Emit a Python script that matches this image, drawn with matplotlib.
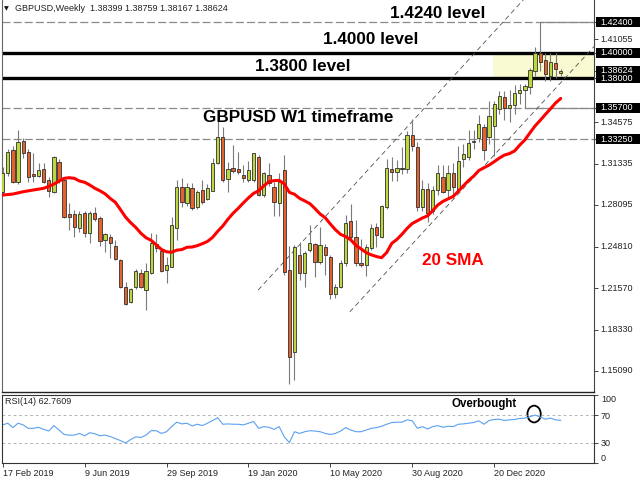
import numpy as np
import pandas as pd
import matplotlib
matplotlib.use("Agg")
import matplotlib.pyplot as plt
from matplotlib.patches import Ellipse, Rectangle
from matplotlib import transforms

plt.rcParams['font.family'] = ['Liberation Sans', 'DejaVu Sans']
plt.rcParams['lines.scale_dashes'] = False

# ---------------- data ----------------
symbol = "GBPUSD"
timeframe = "Weekly"

opens = [1.2913, 1.3057, 1.3240, 1.2992, 1.3310, 1.3227, 1.3050, 1.3038, 1.3089, 1.3005,
         1.2913, 1.3148, 1.3005, 1.2739, 1.2736, 1.2632, 1.2744, 1.2587, 1.2744, 1.2705,
         1.2535, 1.2556, 1.2488, 1.2378, 1.2165, 1.2052, 1.2165, 1.2274, 1.2143, 1.2279,
         1.2505, 1.2451, 1.2300, 1.2326, 1.2627, 1.2952, 1.2827, 1.2940, 1.2791, 1.2927,
         1.2856, 1.2921, 1.3140, 1.3339, 1.3010, 1.3097, 1.3089, 1.3044, 1.3005, 1.3005,
         1.3187, 1.2887, 1.3044, 1.2952, 1.2822, 1.3085, 1.2300, 1.1660, 1.2418, 1.2274,
         1.2457, 1.2501, 1.2365, 1.2483, 1.2404, 1.2112, 1.2169, 1.2352, 1.2683, 1.2561,
         1.2352, 1.2339, 1.2470, 1.2639, 1.2561, 1.2796, 1.3090, 1.3065, 1.3097, 1.3089,
         1.3357, 1.3266, 1.2796, 1.2932, 1.2760, 1.2925, 1.3031, 1.2930, 1.3057, 1.2930,
         1.3167, 1.3183, 1.3300, 1.3331, 1.3420, 1.3345, 1.3430, 1.3560, 1.3653, 1.3566,
         1.3592, 1.3688, 1.3710, 1.3731, 1.3861, 1.4002, 1.3945, 1.3819, 1.3924, 1.38399]

highs = [1.3109, 1.3245, 1.3270, 1.3397, 1.3330, 1.3245, 1.3214, 1.3140, 1.3135, 1.3026,
         1.3193, 1.3167, 1.3010, 1.2822, 1.2770, 1.2764, 1.2764, 1.2760, 1.2791, 1.2720,
         1.2590, 1.2580, 1.2535, 1.2390, 1.2208, 1.2157, 1.2305, 1.2305, 1.2357, 1.2587,
         1.2580, 1.2470, 1.2404, 1.2713, 1.3005, 1.3018, 1.2980, 1.2979, 1.2930, 1.3005,
         1.2975, 1.3175, 1.3500, 1.3420, 1.3148, 1.3279, 1.3227, 1.3122, 1.3150, 1.3220,
         1.3201, 1.3070, 1.3135, 1.2990, 1.3060, 1.3200, 1.2485, 1.2496, 1.2522, 1.2450,
         1.2652, 1.2515, 1.2639, 1.2500, 1.2420, 1.2190, 1.2380, 1.2730, 1.2815, 1.2690,
         1.2540, 1.2500, 1.2660, 1.2670, 1.2810, 1.3170, 1.3187, 1.3160, 1.3265, 1.3390,
         1.3482, 1.3300, 1.3005, 1.2980, 1.2955, 1.3120, 1.3122, 1.3120, 1.3140, 1.3270,
         1.3290, 1.3395, 1.3400, 1.3514, 1.3440, 1.3625, 1.3625, 1.3700, 1.3705, 1.3710,
         1.3750, 1.3760, 1.3760, 1.3880, 1.4050, 1.4240, 1.4000, 1.4000, 1.4000, 1.38759]

lows = [1.2895, 1.3040, 1.2985, 1.2975, 1.3180, 1.2990, 1.2992, 1.3026, 1.2979, 1.2869,
        1.2901, 1.2979, 1.2710, 1.2613, 1.2561, 1.2600, 1.2561, 1.2509, 1.2680, 1.2488,
        1.2443, 1.2392, 1.2380, 1.2157, 1.2026, 1.2044, 1.2150, 1.2157, 1.1987, 1.2270,
        1.2440, 1.2285, 1.2201, 1.2320, 1.2535, 1.2796, 1.2800, 1.2770, 1.2780, 1.2820,
        1.2845, 1.2915, 1.3130, 1.2990, 1.2913, 1.3057, 1.3050, 1.2992, 1.2990, 1.2990,
        1.2880, 1.2875, 1.2960, 1.2725, 1.2725, 1.2260, 1.1410, 1.1440, 1.2222, 1.2169,
        1.2440, 1.2248, 1.2350, 1.2261, 1.2075, 1.2078, 1.2160, 1.2330, 1.2540, 1.2330,
        1.2325, 1.2250, 1.2455, 1.2480, 1.2550, 1.2780, 1.3000, 1.2995, 1.3050, 1.3060,
        1.3230, 1.2760, 1.2765, 1.2675, 1.2740, 1.2890, 1.2901, 1.2860, 1.2855, 1.2915,
        1.3105, 1.3160, 1.3250, 1.3305, 1.3160, 1.3290, 1.3190, 1.3520, 1.3475, 1.3462,
        1.3520, 1.3600, 1.3570, 1.3680, 1.3820, 1.3860, 1.3780, 1.3780, 1.3800, 1.38167]

closes = [1.3057, 1.3222, 1.2992, 1.3300, 1.3214, 1.3031, 1.3040, 1.3083, 1.2992, 1.2921,
          1.3183, 1.3005, 1.2717, 1.2713, 1.2634, 1.2739, 1.2587, 1.2749, 1.2697, 1.2529,
          1.2582, 1.2509, 1.2384, 1.2165, 1.2034, 1.2149, 1.2295, 1.2169, 1.2295, 1.2509,
          1.2475, 1.2295, 1.2340, 1.2652, 1.2952, 1.2835, 1.2948, 1.2783, 1.2913, 1.2835,
          1.2940, 1.3140, 1.3339, 1.3005, 1.3089, 1.3075, 1.3068, 1.3018, 1.3083, 1.3214,
          1.2887, 1.3062, 1.2979, 1.2835, 1.2990, 1.2287, 1.1620, 1.2483, 1.2274, 1.2436,
          1.2509, 1.2365, 1.2496, 1.2418, 1.2112, 1.2164, 1.2352, 1.2670, 1.2561, 1.2352,
          1.2339, 1.2483, 1.2626, 1.2574, 1.2801, 1.3097, 1.3065, 1.3097, 1.3090, 1.3357,
          1.3270, 1.2796, 1.2932, 1.2749, 1.2925, 1.3057, 1.2913, 1.3057, 1.2952, 1.3156,
          1.3209, 1.3297, 1.3313, 1.3443, 1.3240, 1.3510, 1.3600, 1.3663, 1.3566, 1.3592,
          1.3688, 1.3710, 1.3741, 1.3866, 1.4002, 1.3931, 1.3835, 1.3932, 1.3872, 1.38624]

# 20 SMA values for the first 19 weeks (earlier history is off-chart)
sma_lead = [1.2887, 1.2891, 1.2895, 1.2904, 1.2913, 1.2920, 1.2927, 1.2933, 1.2940, 1.2955,
            1.2973, 1.2995, 1.3018, 1.3023, 1.3018, 1.2997, 1.2987, 1.2966, 1.2940]
sma_period = 20

rsi = [56.0, 58.5, 52.0, 58.5, 56.0, 51.0, 51.0, 52.5, 49.5, 47.0,
       55.0, 48.5, 42.0, 41.0, 41.0, 43.5, 40.0, 44.5, 43.0, 40.0,
       41.0, 39.0, 36.0, 33.0, 29.5, 34.5, 38.5, 37.5, 41.0, 47.5,
       47.5, 43.5, 46.0, 53.5, 60.0, 57.5, 58.5, 54.5, 57.0, 55.0,
       58.5, 62.5, 66.5, 57.0, 57.5, 57.0, 57.0, 56.0, 58.5, 61.0,
       51.0, 53.5, 52.5, 49.5, 53.5, 38.5, 30.0, 46.0, 43.5, 46.0,
       47.5, 47.0, 46.0, 43.5, 42.0, 43.5, 47.0, 52.0, 48.5, 46.0,
       46.0, 48.5, 51.0, 52.0, 54.0, 57.0, 59.5, 60.0, 60.0, 63.5,
       62.0, 51.0, 53.5, 50.0, 53.5, 55.0, 52.5, 54.0, 53.5, 57.0,
       57.5, 58.5, 59.5, 62.0, 57.0, 62.5, 64.0, 64.5, 62.5, 63.5,
       64.0, 65.5, 66.0, 68.0, 70.5, 67.5, 64.5, 66.0, 63.5, 62.7609]

date_labels = ["17 Feb 2019", "9 Jun 2019", "29 Sep 2019", "19 Jan 2020",
               "10 May 2020", "30 Aug 2020", "20 Dec 2020"]
date_label_idx = [0, 16, 32, 48, 64, 80, 96]

axis_ticks = [1.41055, 1.34575, 1.31335, 1.28095, 1.24810, 1.21570, 1.18330, 1.15090]
boxed_levels = [1.42400, 1.40000, 1.38000, 1.38624, 1.35700, 1.33250]
dashed_levels = [1.42400, 1.35700, 1.33250]
thick_levels = [1.40000, 1.38000]
rsi_levels = [70, 30]
rsi_ticks = [100, 70, 30, 0]

# ---------------- figure ----------------
W, H = 640, 480
fig = plt.figure(figsize=(6.4, 4.8), dpi=100, facecolor='white')


def fx(px):
    return px / W


def fy(py):
    return 1 - py / H


AX_L, AX_R = 1.5, 594.0
ax = fig.add_axes([fx(AX_L), fy(392), (AX_R - AX_L) / W, 392 / H])
ax2 = fig.add_axes([fx(AX_L), fy(463), (AX_R - AX_L) / W, (463 - 395) / H])

o = np.array(opens)
h = np.array(highs)
l = np.array(lows)
c = np.array(closes)
n = len(c)
idx = np.arange(n)

xlim = (-0.23, 115.5)
ax.set_xlim(*xlim)
ax2.set_xlim(*xlim)
ylim = (1.13445, 1.44147)
ax.set_ylim(*ylim)
ax2.set_ylim(0, 100)

# highlight zone between 1.38 and 1.40
ax.add_patch(Rectangle((95.8, thick_levels[1]), xlim[1] - 95.8, thick_levels[0] - thick_levels[1],
                       facecolor='#fafad2', edgecolor='none', zorder=0.5))

# horizontal dashed levels
for lv in dashed_levels:
    ax.axhline(lv, color='#8a8a8a', lw=0.9, dashes=(5.8, 2.2), zorder=1)
# solid price-line segments from the candles that touched them
ax.hlines(1.42400, 105, xlim[1], color='#8a8a8a', lw=0.9, zorder=1)
ax.hlines(1.35700, 102, xlim[1], color='#8a8a8a', lw=0.9, zorder=1)

# thick key levels
for lv in thick_levels:
    ax.axhline(lv, color='black', lw=2.4, zorder=2)

# channel lines
channels = [((49.9, 1.2143), (101.7, 1.4416)),
            ((67.8, 1.1972), (115.5, 1.4050))]
for (x0, y0), (x1, y1) in channels:
    ax.plot([x0, x1], [y0, y1], color='#505050', lw=0.6, dashes=(3.5, 2.5), zorder=2)

# candles
bull = c >= o
bear = ~bull
ax.vlines(idx, l, h, color='#7a7a7a', lw=0.8, zorder=3)
ax.bar(idx[bull], (c - o)[bull], bottom=o[bull], width=0.64, color='#bcd63e',
       edgecolor='#303030', linewidth=0.6, zorder=4)
ax.bar(idx[bear], (o - c)[bear], bottom=c[bear], width=0.64, color='#e4622c',
       edgecolor='#303030', linewidth=0.6, zorder=4)

# 20 SMA
sma = pd.Series(c).rolling(sma_period).mean().to_numpy()
sma[:sma_period - 1] = sma_lead
ax.plot(idx, sma, color='#ff0000', lw=2.2, zorder=5, solid_capstyle='round')

# spines / ticks main
ax.spines['top'].set_visible(False)
ax.spines['left'].set_color('#666666')
ax.spines['left'].set_linewidth(0.8)
ax.spines['right'].set_color('#444444')
ax.spines['right'].set_linewidth(0.8)
ax.spines['bottom'].set_color('#222222')
ax.spines['bottom'].set_linewidth(1.0)
ax.set_xticks([])
ax.yaxis.tick_right()
ax.set_yticks(sorted(axis_ticks + boxed_levels))
ax.tick_params(axis='y', direction='out', length=3, width=0.7, colors='#444444', labelright=False)

lab_tr = transforms.blended_transform_factory(ax.transAxes, ax.transData)
axw = AX_R - AX_L
x_lab = (600 - AX_L) / axw
for p in axis_ticks:
    ax.text(x_lab, p, f"{p:.5f}", transform=lab_tr, fontsize=6.5, color='#222222',
            va='center', ha='left', clip_on=False)

# boxed price labels: fixed-height black boxes (10 px)
px_per_unit = 392 / (ylim[1] - ylim[0])
box_h = 10 / px_per_unit
bx0 = (595.5 - AX_L) / axw
bx1 = (641 - AX_L) / axw
for p in boxed_levels:
    ax.add_patch(Rectangle((bx0, p - box_h / 2), bx1 - bx0, box_h, transform=lab_tr,
                           facecolor='black', edgecolor='none', clip_on=False, zorder=7))
    ax.text(x_lab, p, f"{p:.5f}", transform=lab_tr, fontsize=6.5, color='white',
            va='center', ha='left', clip_on=False, zorder=8)

# annotations
bold = dict(fontsize=12.3, fontweight='bold', ha='center', va='center', zorder=6)
ax.text(84.9, 1.4310, "1.4240 level", color='black', **bold)
ax.text(71.9, 1.4107, "1.4000 level", color='black', **bold)
ax.text(58.65, 1.3892, "1.3800 level", color='black', **bold)
ax.text(57.8, 1.3496, "GBPUSD W1 timeframe", color='black', **bold)
ax.text(87.85, 1.2378, "20 SMA", color='#ff0000', **bold)

# ---------------- RSI panel ----------------
for lv in rsi_levels:
    ax2.axhline(lv, color='#b4b4b4', lw=0.7, ls=(0, (2, 2)))
ax2.plot(idx, rsi, color='#5aa0f0', lw=0.8)
ax2.add_patch(Ellipse((103.8, 72), width=2.6, height=24.6, fill=False, ec='black', lw=1.3))
ax2.text(94.1, 86.8, "Overbought", fontsize=8.3, fontweight='bold', ha='center', va='center')

for s in ax2.spines.values():
    s.set_color('#333333')
    s.set_linewidth(0.8)
ax2.yaxis.tick_right()
ax2.set_yticks(rsi_ticks)
ax2.set_yticklabels([str(t) for t in rsi_ticks])
ax2.tick_params(axis='y', direction='out', length=3, width=0.7, colors='#444444',
                labelsize=6.5, labelcolor='#222222', pad=2)
for t, lab in zip(rsi_ticks, ax2.get_yticklabels()):
    if t == 100:
        lab.set_va('top')
    elif t == 0:
        lab.set_va('bottom')
ax2.set_xticks(date_label_idx)
ax2.set_xticklabels(date_labels, fontsize=6.5, color='#222222')
for lab in ax2.get_xticklabels():
    lab.set_ha('left')
ax2.tick_params(axis='x', direction='out', length=3, width=0.7, colors='#444444',
                labelcolor='#222222', pad=1.5)

fig.text(fx(5), fy(401.7), f"RSI(14) {rsi[-1]:.4f}", fontsize=6.5, color='#222222', va='center')

# header
fig.text(fx(3.5), fy(8.3), "\u25BC", fontsize=4.5, family=['DejaVu Sans'], va='center', color='#111111')
fig.text(fx(15), fy(8.5),
         f"{symbol},{timeframe}  {opens[-1]:.5f} {highs[-1]:.5f} {lows[-1]:.5f} {closes[-1]:.5f}",
         fontsize=6.5, color='#222222', va='center')

fig.savefig("out.png", dpi=100, facecolor='white')
